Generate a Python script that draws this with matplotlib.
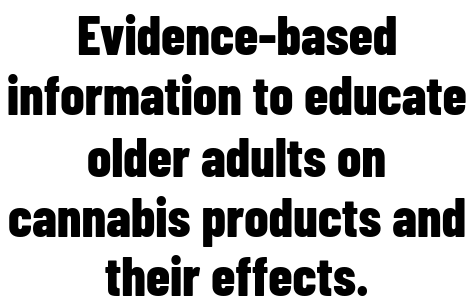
import matplotlib
matplotlib.use("Agg")
import matplotlib.pyplot as plt

lines = ["Evidence-based", "information to educate", "older adults on",
         "cannabis products and", "their effects."]
baselines = [55, 115, 177, 237, 296]  # pixel rows from top

W, H = 474, 305
fig = plt.figure(figsize=(W/100, H/100), dpi=100)
fig.patch.set_facecolor("white")
for txt, yb in zip(lines, baselines):
    fig.text(0.5, 1 - yb/H, txt, ha="center", va="baseline",
             fontsize=39, fontweight=800, color="#000000",
             family=["Barlow Condensed", "DejaVu Sans"])
fig.savefig("out.png", dpi=100, facecolor="white")
